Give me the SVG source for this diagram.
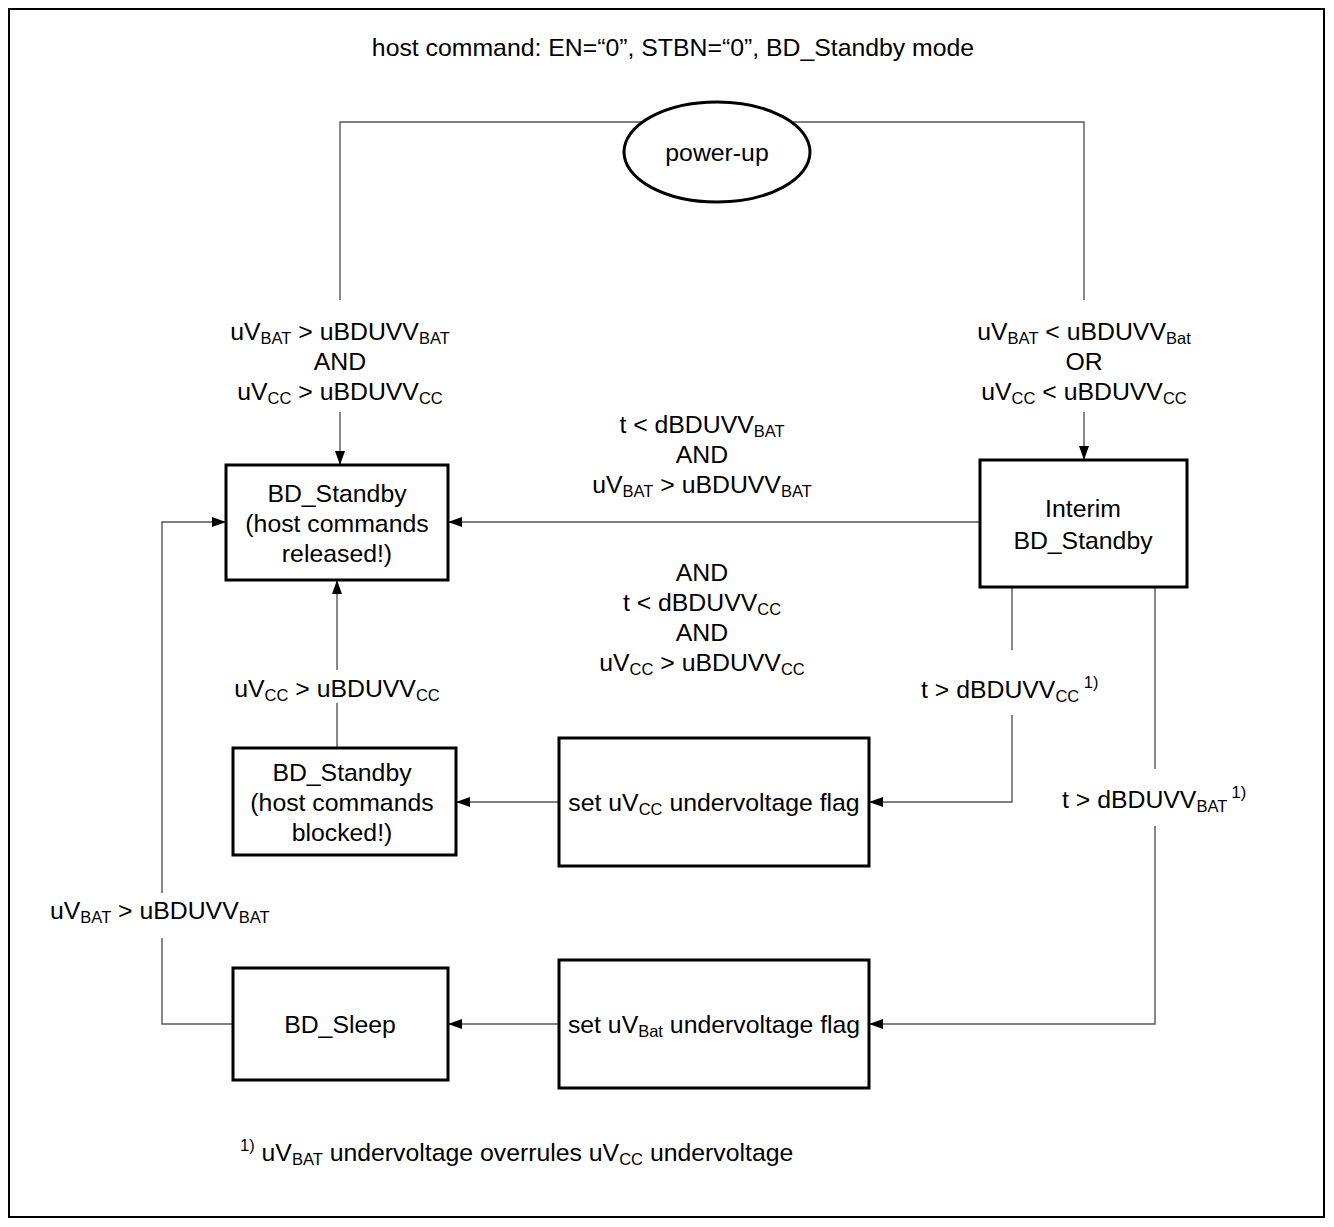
<svg xmlns="http://www.w3.org/2000/svg" width="1334" height="1227" viewBox="0 0 1334 1227">
<style>
text{font-family:"Liberation Sans",Arial,sans-serif;font-size:24.8px;fill:#000}
.m{text-anchor:middle}
.s{font-size:16.5px}
.box{fill:#fff;stroke:#000;stroke-width:3}
.c{fill:none;stroke:#555;stroke-width:1.4}
</style>
<defs>
<marker id="ah" markerWidth="14" markerHeight="10" refX="13" refY="5" orient="auto" markerUnits="userSpaceOnUse">
<path d="M0,0 L14,5 L0,10 z" fill="#000"/>
</marker>
</defs>
<rect x="9" y="9" width="1315" height="1208" fill="#fff" stroke="#000" stroke-width="2"/>
<text class="m" x="673" y="56">host command: EN=“0”, STBN=“0”, BD_Standby mode</text>

<g id="connectors">
<path class="c" d="M641,122 H340 V300"/>
<path class="c" d="M340,412 V464" marker-end="url(#ah)"/>
<path class="c" d="M793,122 H1084 V300"/>
<path class="c" d="M1084,412 V459" marker-end="url(#ah)"/>
<path class="c" d="M980,522 H449" marker-end="url(#ah)"/>
<path class="c" d="M337,748 V703"/>
<path class="c" d="M337,670 V581" marker-end="url(#ah)"/>
<path class="c" d="M559,802 H457" marker-end="url(#ah)"/>
<path class="c" d="M1012,587 V650"/>
<path class="c" d="M1012,715 V802 H870" marker-end="url(#ah)"/>
<path class="c" d="M1155,587 V769"/>
<path class="c" d="M1155,826 V1024 H870" marker-end="url(#ah)"/>
<path class="c" d="M559,1024 H449" marker-end="url(#ah)"/>
<path class="c" d="M233,1024 H162 V938"/>
<path class="c" d="M162,893 V522 H225" marker-end="url(#ah)"/>
</g>

<g id="power-up">
<ellipse cx="717" cy="152" rx="93" ry="50" fill="#fff" stroke="#000" stroke-width="3"/>
<text class="m" x="717" y="161">power-up</text>
</g>

<g id="bd-standby-released">
<rect class="box" x="226" y="465" width="222" height="115"/>
<text class="m" x="337" y="502">BD_Standby</text>
<text class="m" x="337" y="532">(host commands</text>
<text class="m" x="337" y="562">released!)</text>
</g>

<g id="interim-bd-standby">
<rect class="box" x="980" y="460" width="207" height="127"/>
<text class="m" x="1083" y="517">Interim</text>
<text class="m" x="1083" y="549">BD_Standby</text>
</g>

<g id="bd-standby-blocked">
<rect class="box" x="233" y="748" width="223" height="107"/>
<text class="m" x="342" y="781">BD_Standby</text>
<text class="m" x="342" y="811">(host commands</text>
<text class="m" x="342" y="841">blocked!)</text>
</g>

<g id="set-uvcc-flag">
<rect class="box" x="559" y="738" width="310" height="128"/>
<text class="m" x="714" y="811">set uV<tspan class="s" dy="4">CC</tspan><tspan dy="-4"> undervoltage flag</tspan></text>
</g>

<g id="set-uvbat-flag">
<rect class="box" x="559" y="960" width="310" height="128"/>
<text class="m" x="714" y="1033">set uV<tspan class="s" dy="4">Bat</tspan><tspan dy="-4"> undervoltage flag</tspan></text>
</g>

<g id="bd-sleep">
<rect class="box" x="233" y="968" width="215" height="112"/>
<text class="m" x="340" y="1033">BD_Sleep</text>
</g>

<g id="labels">
<text class="m" x="340" y="340">uV<tspan class="s" dy="4">BAT</tspan><tspan dy="-4"> &gt; uBDUVV</tspan><tspan class="s" dy="4">BAT</tspan></text>
<text class="m" x="340" y="370">AND</text>
<text class="m" x="340" y="400">uV<tspan class="s" dy="4">CC</tspan><tspan dy="-4"> &gt; uBDUVV</tspan><tspan class="s" dy="4">CC</tspan></text>

<text class="m" x="1084" y="340">uV<tspan class="s" dy="4">BAT</tspan><tspan dy="-4"> &lt; uBDUVV</tspan><tspan class="s" dy="4">Bat</tspan></text>
<text class="m" x="1084" y="370">OR</text>
<text class="m" x="1084" y="400">uV<tspan class="s" dy="4">CC</tspan><tspan dy="-4"> &lt; uBDUVV</tspan><tspan class="s" dy="4">CC</tspan></text>

<text class="m" x="702" y="433">t &lt; dBDUVV<tspan class="s" dy="4">BAT</tspan></text>
<text class="m" x="702" y="463">AND</text>
<text class="m" x="702" y="493">uV<tspan class="s" dy="4">BAT</tspan><tspan dy="-4"> &gt; uBDUVV</tspan><tspan class="s" dy="4">BAT</tspan></text>
<text class="m" x="702" y="581">AND</text>
<text class="m" x="702" y="611">t &lt; dBDUVV<tspan class="s" dy="4">CC</tspan></text>
<text class="m" x="702" y="641">AND</text>
<text class="m" x="702" y="671">uV<tspan class="s" dy="4">CC</tspan><tspan dy="-4"> &gt; uBDUVV</tspan><tspan class="s" dy="4">CC</tspan></text>

<text class="m" x="337" y="697">uV<tspan class="s" dy="4">CC</tspan><tspan dy="-4"> &gt; uBDUVV</tspan><tspan class="s" dy="4">CC</tspan></text>

<text x="921" y="698">t &gt; dBDUVV<tspan class="s" dy="4">CC</tspan><tspan class="s" dy="-14"> 1)</tspan></text>
<text x="1062" y="808">t &gt; dBDUVV<tspan class="s" dy="4">BAT</tspan><tspan class="s" dy="-14"> 1)</tspan></text>

<text x="50" y="919">uV<tspan class="s" dy="4">BAT</tspan><tspan dy="-4"> &gt; uBDUVV</tspan><tspan class="s" dy="4">BAT</tspan></text>

<text x="240" y="1161"><tspan class="s" dy="-10">1)</tspan><tspan dy="10"> uV</tspan><tspan class="s" dy="4">BAT</tspan><tspan dy="-4"> undervoltage overrules uV</tspan><tspan class="s" dy="4">CC</tspan><tspan dy="-4"> undervoltage</tspan></text>
</g>
</svg>
